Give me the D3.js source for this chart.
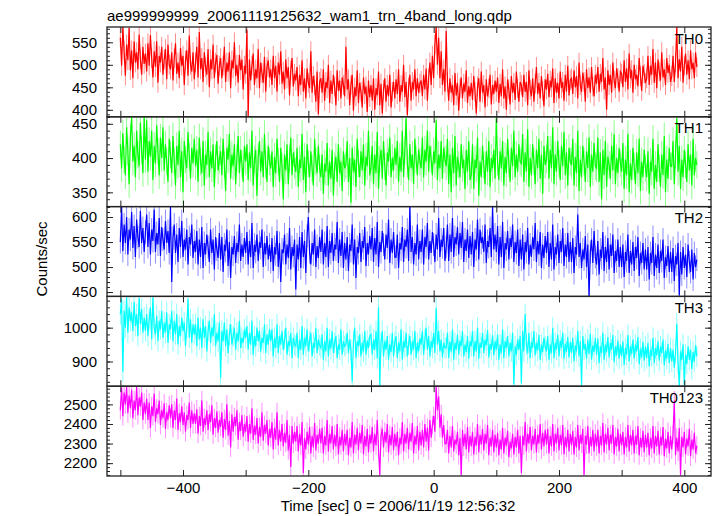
<!DOCTYPE html>
<html><head><meta charset="utf-8">
<script src="https://cdn.jsdelivr.net/npm/d3@7"></script>
<style>body{margin:0;background:#fff} svg{display:block} text{font-family:"Liberation Sans",Arial,Helvetica,sans-serif}</style>
</head><body><svg id="c" width="717" height="516"></svg>
<script>
const title = "ae999999999_20061119125632_wam1_trn_4band_long.qdp";
const xLabel = "Time [sec] 0 = 2006/11/19 12:56:32";
const yLabel = "Counts/sec";
const timeStart = -500, timeStep = 2;
const xTickLabels = [-400, -200, 0, 200, 400];
const xTickMajor = [-500, -400, -300, -200, -100, 0, 100, 200, 300, 400];
const panelNames = ["TH0", "TH1", "TH2", "TH3", "TH0123"];
const panelColors = ["#ff0000", "#00ff00", "#0000ff", "#00ffff", "#ff00ff"];
const yTickLabels = [[400, 450, 500, 550], [350, 400, 450], [450, 500, 550, 600], [900, 1000], [2200, 2300, 2400, 2500]];
const yMinorStep = [10, 10, 10, 20, 20];
const yRanges = [[384.5, 584], [329.2, 460.2], [441.3, 620.8], [827, 1092.4], [2134.5, 2592.8]];
const yErrors = [22, 20, 23, 31, 48];

const th0 = [
560,498,584,530,476,545,510,582,488,532,470,552,505,528,490,567,512,478,540,502,
525,485,548,498,566,515,472,530,495,552,460,520,505,540,478,512,535,468,545,500,
490,528,465,515,548,480,505,470,538,498,520,455,510,532,476,565,500,485,528,468,
505,540,472,573,490,515,462,528,495,478,535,450,512,490,545,470,505,522,458,498,
515,470,498,540,462,505,485,528,448,510,492,550,475,500,460,522,488,512,445,498,
480,578,386,512,465,498,525,455,490,470,535,448,505,482,460,518,440,495,510,472,
490,455,520,470,498,440,505,478,530,458,485,445,512,470,495,432,488,515,452,480,
465,495,430,478,455,510,440,470,425,492,460,448,530,438,475,455,418,485,390,462,
470,438,490,420,462,448,500,415,465,435,478,452,410,488,442,465,425,472,455,430,
540,445,468,410,455,478,398,450,430,488,415,460,440,405,472,435,452,395,465,428,
455,420,470,400,448,432,485,410,458,392,445,470,418,455,430,478,405,440,462,425,
468,435,490,418,455,440,500,428,462,388,450,478,420,462,445,490,430,470,438,458,
465,430,478,445,492,420,470,505,455,520,470,545,584,500,560,470,530,455,490,440,
575,462,420,470,438,455,410,482,432,460,398,448,472,425,458,440,488,415,452,430,
460,422,475,440,392,452,470,418,485,438,455,405,468,430,448,478,412,455,435,465,
440,472,415,458,430,490,425,452,400,468,445,412,475,438,460,422,485,448,418,462,
455,428,478,440,462,410,488,445,430,470,418,458,495,435,460,425,475,442,408,468,
445,480,428,465,450,492,415,470,438,460,425,485,448,462,420,478,440,498,432,466,
470,435,488,450,475,425,505,455,440,482,462,418,490,448,472,438,495,452,430,478,
458,495,440,480,462,515,445,472,400,488,455,478,438,505,465,448,492,470,440,485,
480,450,510,462,492,445,525,470,488,438,500,468,478,452,515,475,442,498,480,460,
470,520,455,498,478,535,460,505,448,512,485,465,528,472,490,455,515,482,500,462,
475,520,462,505,584,470,512,485,540,460,498,525,478,510,468,532,490,505,470,528,
495];

const th1 = [
420,385,436,398,375,445,410,362,430,460,395,418,372,440,405,388,452,412,378,460,
398,455,380,425,402,440,368,418,392,448,410,375,430,400,445,382,420,395,365,428,
405,378,432,395,360,418,390,440,372,410,350,425,398,385,438,402,370,415,392,428,
388,412,365,430,395,378,425,360,405,390,438,372,410,385,420,358,400,425,382,398,
410,375,428,390,352,415,398,435,370,405,388,420,362,400,432,378,412,392,365,418,
395,420,368,408,385,440,360,398,412,345,402,425,380,410,372,435,390,365,418,395,
385,410,358,402,378,428,395,365,415,388,340,405,382,420,362,398,430,375,408,390,
380,415,358,398,385,435,368,402,350,420,392,372,410,385,360,428,395,378,418,385,
372,405,348,392,380,422,360,395,370,412,345,388,402,365,420,378,395,352,410,385,
390,425,365,400,335,415,380,398,358,428,392,372,410,382,420,360,402,388,440,375,
385,418,362,405,378,438,355,398,412,370,425,388,360,408,395,430,372,400,382,415,
390,425,365,402,380,440,372,410,458,392,368,420,385,405,362,428,398,375,412,395,
385,430,372,412,395,440,380,418,398,375,410,392,455,368,405,385,425,370,415,398,
388,428,362,405,350,415,378,432,360,402,390,372,420,385,398,355,412,380,425,368,
375,420,355,398,385,430,345,395,372,418,390,362,410,380,425,358,400,385,412,370,
458,395,368,410,385,425,360,402,378,428,392,365,415,388,440,372,405,380,420,395,
392,435,365,408,380,442,358,400,375,420,395,362,412,385,428,370,405,348,418,390,
398,432,370,412,385,445,362,405,380,425,392,368,418,388,438,375,408,360,415,395,
390,428,360,402,378,440,352,398,372,418,395,365,410,385,430,358,405,380,422,388,
385,430,365,408,340,412,375,425,358,402,390,370,418,382,435,362,400,378,415,392,
380,422,355,398,375,435,350,392,368,415,388,362,408,378,428,352,395,372,412,385,
372,410,348,395,380,428,355,390,365,420,385,358,405,375,432,350,398,370,415,388,
388,425,362,405,458,380,418,355,398,372,412,390,365,420,382,405,360,428,375,400,
390];

const th2 = [
550,620,532,585,548,600,525,575,555,610,538,582,520,595,560,540,612,548,578,530,
570,605,540,588,525,575,552,615,530,568,545,598,522,580,555,535,592,548,572,528,
620,470,558,585,528,565,510,578,540,592,520,555,535,575,505,560,545,585,518,552,
530,572,505,555,520,580,498,548,525,565,540,510,575,528,555,495,560,535,518,568,
515,560,490,545,532,575,502,550,478,540,525,562,508,548,530,585,512,545,520,558,
528,570,505,552,520,588,498,545,530,565,512,550,538,575,500,548,525,562,515,545,
510,558,492,540,525,572,500,548,470,535,528,565,505,545,518,578,495,540,522,555,
455,545,515,560,498,570,520,552,488,562,600,530,505,548,525,575,500,542,518,560,
530,575,505,548,520,582,500,552,528,568,512,545,535,590,508,555,522,570,498,548,
515,560,492,545,532,585,505,555,478,540,528,568,510,552,538,580,502,548,525,562,
535,578,510,558,525,590,500,550,530,572,545,515,565,538,595,508,555,528,570,520,
520,565,498,548,535,580,510,555,540,575,512,620,530,560,505,548,525,585,515,552,
530,575,505,560,540,588,515,552,528,570,545,510,565,535,598,520,555,540,578,512,
540,585,512,565,530,598,520,560,545,580,525,568,538,590,510,555,532,575,518,562,
525,570,500,555,535,595,515,575,548,560,530,585,508,552,540,578,520,620,535,565,
530,582,505,560,520,590,498,548,535,572,515,558,540,585,510,550,528,575,502,555,
515,565,495,550,530,578,505,545,520,560,535,588,510,552,525,570,498,545,518,562,
528,570,500,548,515,585,495,540,525,565,508,552,530,578,502,545,520,568,510,550,
510,558,488,540,525,605,520,548,498,535,515,562,500,545,442,530,555,508,572,520,
505,552,485,535,518,570,492,540,510,558,495,545,522,565,488,532,512,555,500,540,
500,545,480,530,512,565,488,532,505,550,492,540,518,560,482,528,508,548,495,535,
495,540,475,528,508,560,482,525,498,545,488,532,512,555,478,520,502,542,490,530,
490,538,472,522,505,548,443,530,485,540,498,525,480,545,510,490,535,475,528,500,
515];

const th3 = [
1040,1085,870,1050,1000,1090,985,1060,1020,1045,990,1075,1005,1040,975,1088,1010,1055,985,1030,
990,1040,975,1025,1060,965,1090,1000,980,1035,960,1020,995,1050,970,1015,985,1045,955,1010,
995,1050,960,1020,980,1040,950,1005,975,1030,990,1015,945,1000,1085,970,1025,955,1010,980,
1010,945,1030,965,1000,940,1025,970,1005,930,990,1020,955,1000,975,1040,945,985,960,1015,
852,990,960,1015,945,995,925,980,1010,950,975,1000,935,985,960,1020,940,970,955,995,
970,1005,935,985,950,1020,920,975,945,1000,960,990,930,970,955,1010,925,980,950,995,
960,995,915,970,940,1010,925,975,950,990,935,965,1000,920,960,945,985,910,970,950,
945,985,910,965,935,1005,920,970,945,995,930,960,985,915,955,940,1000,925,965,948,
940,980,905,960,930,1000,915,965,938,990,925,955,975,910,950,935,995,920,960,945,
950,985,925,965,935,840,960,1000,910,960,945,980,915,955,930,990,920,962,940,975,
980,920,965,935,990,910,1060,830,955,990,915,960,935,975,905,950,928,985,915,958,
975,910,955,930,995,905,960,940,985,915,950,975,920,960,935,990,910,955,930,968,
950,990,920,965,1000,935,975,915,960,940,985,925,1058,950,990,930,965,912,955,940,
940,985,910,958,930,995,905,955,935,980,920,962,945,990,915,950,928,975,908,960,
945,990,915,960,930,1000,908,955,940,985,925,965,948,992,912,952,935,978,918,960,
935,980,905,950,925,995,910,960,940,975,915,955,930,985,832,945,920,965,935,975,
835,990,930,1040,950,925,985,910,958,940,990,918,955,932,978,905,950,928,970,945,
930,975,905,950,925,1000,910,955,935,980,915,962,940,985,908,952,928,972,912,958,
925,970,900,948,930,990,915,960,830,975,935,952,908,965,922,982,905,948,928,970,
920,968,895,945,925,985,905,950,928,972,912,955,935,978,898,945,918,962,908,950,
915,960,890,940,920,978,900,945,922,965,908,950,930,972,892,938,912,958,902,945,
910,955,885,935,915,970,895,940,918,960,902,945,925,965,888,932,908,952,895,940,
900,935,882,925,1012,895,828,930,905,950,830,920,892,945,905,935,878,928,900,948,
915];

const th0123 = [
2470,2585,2440,2560,2500,2590,2455,2545,2480,2575,2430,2520,2470,2590,2445,2535,2490,2560,2420,2510,
2450,2530,2420,2510,2380,2490,2440,2555,2410,2480,2450,2520,2395,2470,2430,2505,2375,2460,2420,2495,
2430,2500,2380,2470,2420,2530,2370,2455,2410,2490,2395,2460,2360,2445,2420,2510,2380,2470,2400,2455,
2400,2475,2350,2440,2390,2520,2360,2430,2395,2470,2370,2450,2410,2495,2345,2430,2380,2465,2355,2420,
2385,2460,2330,2425,2370,2500,2340,2415,2280,2450,2360,2435,2390,2470,2320,2410,2365,2445,2335,2400,
2360,2440,2310,2400,2350,2480,2320,2390,2345,2430,2300,2385,2335,2460,2315,2395,2350,2420,2290,2375,
2330,2410,2270,2380,2320,2460,2290,2370,2310,2400,2285,2355,2305,2420,2265,2345,2180,2390,2300,2360,
2310,2390,2260,2350,2290,2410,2150,2330,2270,2360,2295,2385,2250,2340,2280,2405,2265,2345,2300,2375,
2300,2380,2250,2340,2290,2420,2260,2350,2300,2390,2270,2345,2285,2400,2245,2335,2290,2370,2260,2350,
2290,2370,2240,2330,2280,2410,2250,2345,2295,2380,2265,2355,2300,2395,2245,2340,2285,2375,2255,2345,
2300,2385,2260,2350,2290,2420,2270,2140,2340,2375,2280,2360,2305,2400,2255,2345,2290,2385,2265,2350,
2285,2360,2240,2330,2295,2410,2260,2350,2300,2380,2270,2355,2310,2405,2250,2340,2295,2390,2265,2360,
2290,2370,2280,2400,2310,2380,2265,2420,2330,2395,2440,2360,2590,2470,2540,2380,2450,2330,2395,2300,
2300,2370,2250,2340,2280,2390,2260,2320,2295,2360,2240,2330,2140,2370,2285,2350,2270,2385,2255,2340,
2285,2360,2245,2335,2290,2400,2255,2345,2295,2375,2265,2350,2300,2395,2240,2330,2285,2370,2255,2345,
2280,2355,2240,2320,2270,2380,2250,2330,2290,2365,2230,2310,2275,2350,2245,2335,2280,2370,2250,2340,
2150,2340,2290,2410,2260,2350,2300,2385,2265,2340,2295,2375,2255,2345,2300,2400,2270,2355,2285,2370,
2295,2375,2250,2340,2285,2400,2260,2350,2300,2380,2265,2345,2290,2395,2245,2335,2280,2370,2260,2350,
2290,2365,2245,2335,2280,2395,2265,2345,2300,2375,2140,2340,2295,2390,2250,2335,2285,2370,2260,2350,
2285,2370,2250,2340,2290,2405,2255,2350,2295,2380,2265,2345,2300,2395,2245,2335,2285,2375,2260,2350,
2290,2360,2245,2335,2280,2395,2260,2345,2290,2370,2250,2340,2295,2390,2240,2330,2280,2365,2255,2345,
2280,2355,2240,2330,2275,2390,2250,2340,2285,2365,2245,2335,2290,2385,2235,2325,2275,2360,2250,2340,
2270,2345,2520,2240,2330,2260,2380,2140,2335,2280,2360,2245,2325,2285,2375,2235,2320,2270,2355,2250,
2290];

const series = [th0, th1, th2, th3, th0123];
const times = th0.map((_, i) => timeStart + i * timeStep);

const svg = d3.select("#c");
const L = 107, R = 711, T = 27, B = 476;
const ph = (B - T) / 5;
const x = d3.scaleLinear().domain([-521.3, 442.6]).range([L, R]);
const fontSize = 15;
const fontFam = '"Liberation Sans",Arial,Helvetica,sans-serif';

svg.append("text").attr("x", L).attr("y", 21).attr("font-size", fontSize).attr("fill", "#000").text(title);

panelNames.forEach((name, p) => {
  const top = T + p * ph, bot = top + ph;
  const y = d3.scaleLinear().domain(yRanges[p]).range([bot, top]);
  const g = svg.append("g");
  const clipId = "clip" + p;
  svg.append("clipPath").attr("id", clipId).append("rect")
    .attr("x", L).attr("y", top).attr("width", R - L).attr("height", ph);
  const data = series[p];
  const err = yErrors[p];
  const line = d3.line().x((d, i) => x(times[i])).y(d => y(d));
  const lg = g.append("g").attr("clip-path", `url(#${clipId})`);
  lg.append("g").selectAll("line").data(data).join("line")
    .attr("x1", (d, i) => x(times[i])).attr("x2", (d, i) => x(times[i]))
    .attr("y1", d => y(d - err)).attr("y2", d => y(d + err))
    .attr("stroke", panelColors[p]).attr("stroke-opacity", 0.45).attr("stroke-width", 1);
  lg.append("path").datum(data).attr("d", line).attr("fill", "none")
    .attr("stroke", panelColors[p]).attr("stroke-width", 1.2);

  const [d0, d1] = yRanges[p];
  const minor = d3.range(Math.ceil(d0 / yMinorStep[p]) * yMinorStep[p], d1, yMinorStep[p]);
  const styleAxis = sel => { sel.select(".domain").remove(); sel.selectAll("line").attr("stroke", "#222"); sel.selectAll("text").attr("font-size", fontSize).attr("fill", "#000").attr("font-family", fontFam); };
  g.append("g").attr("transform", `translate(${L},0)`).call(d3.axisLeft(y).tickValues(minor).tickSize(-3).tickFormat("")).call(styleAxis);
  g.append("g").attr("transform", `translate(${R},0)`).call(d3.axisRight(y).tickValues(minor).tickSize(-3).tickFormat("")).call(styleAxis);
  g.append("g").attr("transform", `translate(${L},0)`).call(d3.axisLeft(y).tickValues(yTickLabels[p]).tickSize(-6).tickPadding(10).tickFormat(d3.format("d"))).call(styleAxis);
  g.append("g").attr("transform", `translate(${R},0)`).call(d3.axisRight(y).tickValues(yTickLabels[p]).tickSize(-6).tickFormat("")).call(styleAxis);
  g.append("g").attr("transform", `translate(0,${top})`).call(d3.axisTop(x).tickValues(xTickMajor).tickSize(-6).tickFormat("")).call(styleAxis);
  g.append("g").attr("transform", `translate(0,${bot})`).call(d3.axisBottom(x).tickValues(xTickMajor).tickSize(-6)
      .tickFormat(d => (p === 4 && xTickLabels.includes(d)) ? d3.format("d")(d).replace("-", "\u2212") : "").tickPadding(6)).call(styleAxis);
  g.append("rect").attr("x", L).attr("y", top).attr("width", R - L).attr("height", ph)
    .attr("fill", "none").attr("stroke", "#222").attr("stroke-width", 1.3);
  g.append("text").attr("x", 703).attr("y", top + 16.5).attr("text-anchor", "end")
    .attr("font-size", fontSize).attr("fill", "#000").text(name);
});

svg.append("text").attr("x", 398).attr("y", 511).attr("text-anchor", "middle").attr("font-size", fontSize).attr("fill", "#000").text(xLabel);
svg.append("text").attr("transform", `translate(47,259) rotate(-90)`).attr("text-anchor", "middle").attr("font-size", fontSize).attr("fill", "#000").text(yLabel);
</script></body></html>
